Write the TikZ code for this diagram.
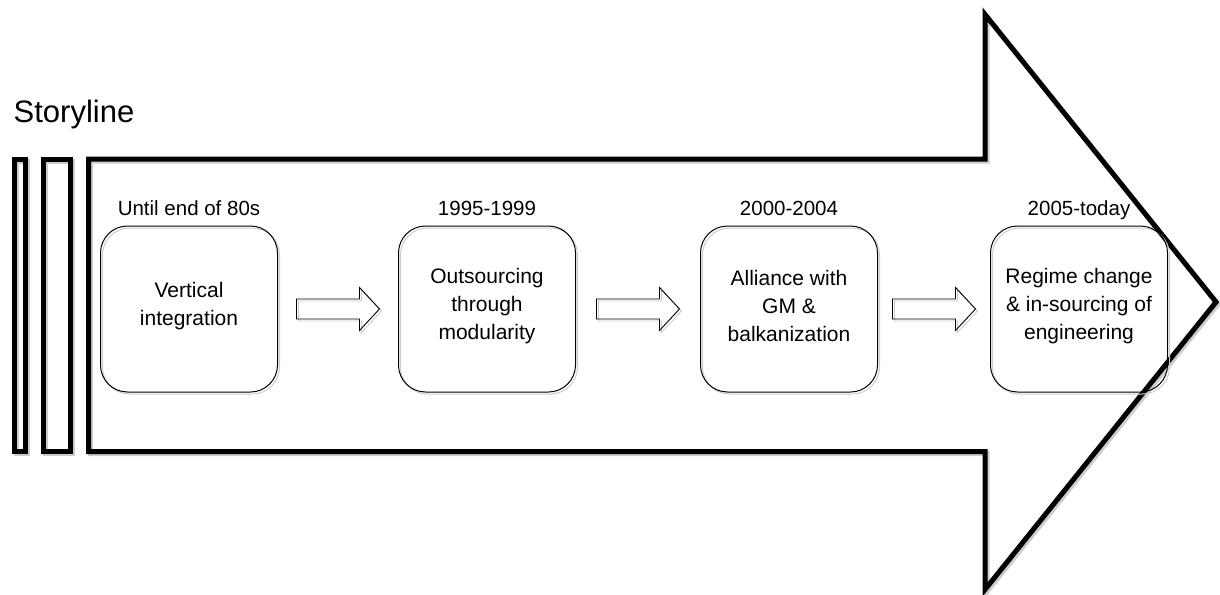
\documentclass[tikz,border=0pt]{standalone}
\usepackage{fontspec}
\setmainfont{Liberation Sans}
\usetikzlibrary{calc}
\begin{document}
\begin{tikzpicture}[x=1pt,y=-1pt,
  softshadow/.style={preaction={draw=black!20, line width=#1, transform canvas={shift={(2,2)}}}},
  heavyline/.style={draw, line width=5pt, line join=miter, softshadow=5pt},
  stagebox/.style={draw, line width=1pt, rounded corners=27pt, minimum width=177pt,
    minimum height=166pt, inner sep=0pt, softshadow=1pt},
  stagetext/.style={align=center, inner sep=0pt, font=\fontsize{21}{28}\selectfont},
  datetext/.style={anchor=base, inner sep=0pt, font=\fontsize{20.5}{24}\selectfont},
  steparrow/.style={draw, line width=0.9pt, line join=miter, softshadow=0.9pt},
]
\useasboundingbox (0,0) rectangle (1220,594);

% title
\node[anchor=base west, inner sep=0pt, font=\fontsize{31}{36}\selectfont] (title) at (13.5,122) {Storyline};

% two narrow bars in front of the shaft
\draw[heavyline] (14.2,159) rectangle (25.5,451.5);
\draw[heavyline] (43.5,159) rectangle (70.5,451.5);

% the big timeline arrow
\draw[heavyline] (88.5,159) -- (985,159) -- (985,14.5) -- (1216,302)
  -- (985,589.5) -- (985,451.5) -- (88.5,451.5) -- cycle;

% stages
\node[stagebox] (b1) at (189,309) {};
\node[stagebox] (b2) at (487,309) {};
\node[stagebox] (b3) at (789,309) {};
\node[stagebox] (b4) at (1079,309) {};

\node[stagetext] (t1) at ($(b1.center)+(0,-3)$) {Vertical\\integration};
\node[stagetext] (t2) at ($(b2.center)+(0,-3)$) {Outsourcing\\through\\modularity};
\node[stagetext] (t3) at ($(b3.center)+(0,-3)$) {Alliance with\\GM \&\\balkanization};
\node[stagetext] (t4) at ($(b4.center)+(0,-3)$) {Regime change\\\& in-sourcing of\\engineering};

\node[datetext] (d1) at ($(b1.north)+(0,-10)$) {Until end of 80s};
\node[datetext] (d2) at ($(b2.north)+(0,-10)$) {1995-1999};
\node[datetext] (d3) at ($(b3.north)+(0,-10)$) {2000-2004};
\node[datetext] (d4) at ($(b4.north)+(0,-10)$) {2005-today};

% block arrows, centred in the gaps between stages
\coordinate (m1) at ($(b1.east)!0.5!(b2.west)$);
\coordinate (m2) at ($(b2.east)!0.5!(b3.west)$);
\coordinate (m3) at ($(b3.east)!0.5!(b4.west)$);
\foreach \m in {m1,m2,m3}
  \draw[steparrow] ($(\m)+(-41.5,-10)$) -- ++(63,0) -- ++(0,-11.5) -- ++(20,21.5)
    -- ++(-20,21.5) -- ++(0,-11.5) -- ++(-63,0) -- cycle;
\end{tikzpicture}
\end{document}
